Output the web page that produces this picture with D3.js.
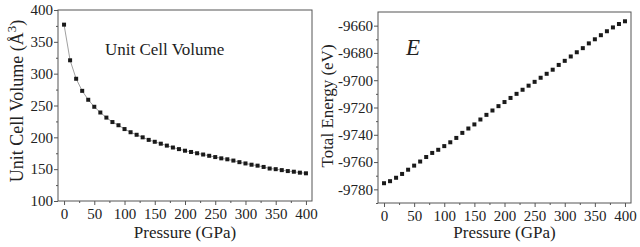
<!DOCTYPE html>
<html>
<head>
<meta charset="utf-8">
<script src="https://cdn.jsdelivr.net/npm/d3@7"></script>
<style>
  body { margin: 0; background: #fff; }
</style>
</head>
<body>
<svg width="640" height="247"></svg>
<script>
  const svg = d3.select("svg");

  // pressure points (GPa), shared by both panels
  const pressure = d3.range(0, 401, 10);

  // unit cell volume (A^3)
  const volume = [377, 321, 292, 273, 259, 248, 239, 231, 224, 219, 213, 208, 204, 200, 196,
    193, 190, 187, 184, 181.5, 179, 177, 175, 173, 171, 169, 167, 165.5, 163.5, 161,
    159, 157, 155.5, 153.5, 151, 150, 148.5, 147, 146, 144.5, 143.5];

  // total energy (eV)
  const energy = [-9775.5, -9774, -9771.5, -9768.7, -9765.6, -9762.6, -9759.6, -9756.3, -9753.3,
    -9751, -9748.3, -9745.5, -9742.3, -9738.6, -9735.4, -9732.4, -9728.8, -9725.4, -9722.2,
    -9719, -9716, -9713, -9710, -9707, -9704, -9701.2, -9698.2, -9695.3, -9692.3, -9688.8,
    -9685.8, -9682.6, -9679.5, -9676.5, -9673, -9670, -9667, -9664.1, -9661.3, -9658.8, -9656.8];

  const xTicks = [0, 50, 100, 150, 200, 250, 300, 350, 400];
  const volTicks = [100, 150, 200, 250, 300, 350, 400];
  const energyTicks = [-9780, -9760, -9740, -9720, -9700, -9680, -9660];

  const axisColor = "#555";
  const textColor = "#222";
  const serif = "Liberation Serif";

  function panel(opt) {
    const g = svg.append("g");
    const x = d3.scaleLinear().domain([-10, 410]).range([opt.left, opt.right]);
    const y = d3.scaleLinear().domain(opt.yDomain).range([opt.bottom, opt.top]);

    // frame
    g.append("rect")
      .attr("x", opt.left).attr("y", opt.top)
      .attr("width", opt.right - opt.left).attr("height", opt.bottom - opt.top)
      .attr("fill", "none").attr("stroke", axisColor).attr("stroke-width", 1);

    // minor ticks
    g.append("g")
      .attr("transform", `translate(0,${opt.bottom})`)
      .call(d3.axisBottom(x).tickValues(d3.range(25, 400, 50)).tickSize(2).tickFormat(""))
      .call(a => a.select(".domain").remove());
    g.append("g")
      .attr("transform", `translate(${opt.left},0)`)
      .call(d3.axisLeft(y).tickValues(opt.yMinor).tickSize(2).tickFormat(""))
      .call(a => a.select(".domain").remove());

    // major ticks
    g.append("g")
      .attr("transform", `translate(0,${opt.bottom})`)
      .call(d3.axisBottom(x).tickValues(xTicks).tickSize(4).tickPadding(3))
      .attr("font-family", serif).attr("font-size", 15);
    g.append("g")
      .attr("transform", `translate(${opt.left},0)`)
      .call(d3.axisLeft(y).tickValues(opt.yTicks).tickSize(4).tickPadding(1)
        .tickFormat(d => String(d)))
      .attr("font-family", serif).attr("font-size", 15);
    g.selectAll(".domain").remove();
    g.selectAll(".tick line").attr("stroke", axisColor);
    g.selectAll(".tick text").attr("fill", textColor);

    // connecting line
    if (opt.line) {
      g.append("path")
        .datum(pressure.map((p, i) => [p, opt.values[i]]))
        .attr("d", d3.line().x(d => x(d[0])).y(d => y(d[1])))
        .attr("fill", "none").attr("stroke", "#888").attr("stroke-width", 0.8);
    }

    // markers
    g.selectAll("rect.pt")
      .data(pressure.map((p, i) => [p, opt.values[i]]))
      .enter().append("rect")
      .attr("class", "pt")
      .attr("x", d => x(d[0]) - 2).attr("y", d => y(d[1]) - 2)
      .attr("width", 4).attr("height", 4)
      .attr("fill", "#1a1a1a");

    // x title
    g.append("text")
      .attr("x", (opt.left + opt.right) / 2).attr("y", 238)
      .attr("text-anchor", "middle").attr("fill", textColor)
      .attr("font-family", serif).attr("font-size", 17)
      .text("Pressure (GPa)");

    return { g, x, y };
  }

  const left = panel({
    left: 58, right: 312, top: 10, bottom: 201,
    yDomain: [100, 400], yTicks: volTicks, yMinor: d3.range(125, 400, 50),
    values: volume, line: true
  });
  const right = panel({
    left: 378, right: 631, top: 12, bottom: 203,
    yDomain: [-9790, -9650], yTicks: energyTicks, yMinor: d3.range(-9790, -9650, 20),
    values: energy, line: false
  });

  // y titles
  const ly = left.g.append("text")
    .attr("transform", "translate(23,101) rotate(-90)")
    .attr("text-anchor", "middle").attr("fill", textColor)
    .attr("font-family", serif).attr("font-size", 18);
  ly.append("tspan").text("Unit Cell Volume (Å");
  ly.append("tspan").attr("dy", -7).attr("font-size", 13).text("3");
  ly.append("tspan").attr("dy", 7).text(")");

  right.g.append("text")
    .attr("transform", "translate(333,106) rotate(-90)")
    .attr("text-anchor", "middle").attr("fill", textColor)
    .attr("font-family", serif).attr("font-size", 17)
    .text("Total Energy (eV)");

  // inner labels
  left.g.append("text")
    .attr("x", 105).attr("y", 55)
    .attr("fill", textColor).attr("font-family", serif).attr("font-size", 17)
    .text("Unit Cell Volume");
  right.g.append("text")
    .attr("x", 406).attr("y", 55)
    .attr("fill", textColor).attr("font-family", serif)
    .attr("font-size", 23).attr("font-style", "italic")
    .text("E");
</script>
</body>
</html>
